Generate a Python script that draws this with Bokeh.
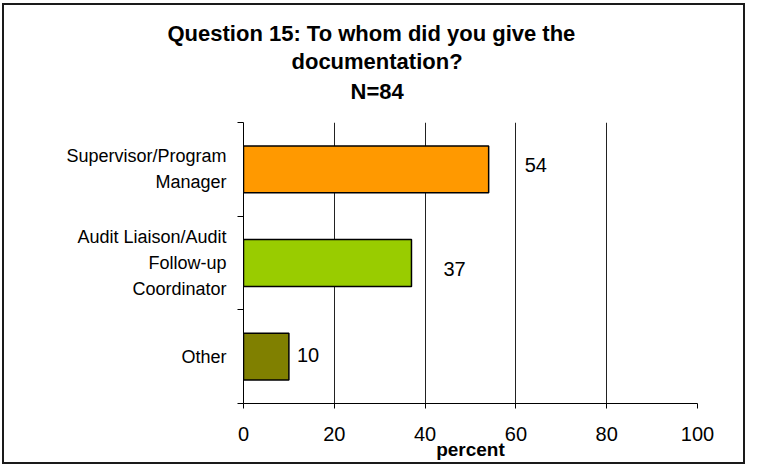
from bokeh.plotting import figure
from bokeh.models import FixedTicker, Range1d, Title, ColumnDataSource
from bokeh.embed import file_html
from bokeh.resources import INLINE
from bokeh.core.properties import value

# ---- data ----
title_lines = ["Question 15:  To whom did you give the", "documentation?", "N=84"]
categories = ["Supervisor/Program\nManager",
              "Audit Liaison/Audit\nFollow-up\nCoordinator",
              "Other"]
percents = [54, 37, 10]
value_labels = ["54", "37", "10"]
bar_colors = ["#FF9900", "#99CC00", "#808000"]
x_ticks = [0, 20, 40, 60, 80, 100]
x_label = "percent"

# ---- layout ----
FONT = "Liberation Sans"
n = len(categories)
ypos = [n - i - 0.5 for i in range(n)]
label_dx = [36, 32, 8]
label_dy = [-4, 6, -2]
# horizontal shift of each title line from the frame's left edge (px)
title_offsets = [-76, 48, 107]
title_standoffs = [0, 2, 4]

p = figure(width=743, height=461, x_range=Range1d(0, 100), y_range=Range1d(0, n),
           output_backend="svg", toolbar_location=None, title=None,
           min_border_left=239, min_border_right=50,
           min_border_top=117, min_border_bottom=63)
p.styles = {"border": "2px solid #1a1a1a", "margin": "3px 0 0 2px"}
p.outline_line_color = None
p.background_fill_color = "white"
p.border_fill_color = "white"

src = ColumnDataSource(dict(y=ypos, right=percents, color=bar_colors,
                            text=value_labels, dx=label_dx, dy=label_dy))
p.hbar(y="y", left=0, right="right", height=0.5, fill_color="color",
       line_color="black", line_width=1.5, source=src)
p.text(x="right", y="y", text="text", x_offset="dx", y_offset="dy", source=src,
       text_font=value(FONT), text_font_size="20px", text_color="black",
       text_align="left", text_baseline="middle")

# x axis
p.xaxis.ticker = FixedTicker(ticks=x_ticks)
p.xaxis.axis_line_color = "black"
p.xaxis.major_tick_line_color = "black"
p.xaxis.major_tick_out = 5
p.xaxis.major_tick_in = 0
p.xaxis.minor_tick_line_color = None
p.xaxis.major_label_text_font = FONT
p.xaxis.major_label_text_font_size = "20px"
p.xaxis.major_label_text_color = "black"
p.xaxis.major_label_standoff = 18
p.xaxis.axis_label = x_label
p.xaxis.axis_label_text_font = FONT
p.xaxis.axis_label_text_font_size = "19px"
p.xaxis.axis_label_text_font_style = "bold"
p.xaxis.axis_label_text_color = "black"
p.xaxis.axis_label_standoff = -5

p.xgrid.ticker = FixedTicker(ticks=x_ticks)
p.xgrid.grid_line_color = "#222222"
p.xgrid.grid_line_width = 1
p.ygrid.visible = False

# y axis
p.yaxis.ticker = FixedTicker(ticks=ypos, minor_ticks=list(range(n + 1)))
p.yaxis.major_label_overrides = {ypos[i]: categories[i] for i in range(n)}
p.yaxis.axis_line_color = "black"
p.yaxis.major_tick_line_color = None
p.yaxis.major_tick_out = 0
p.yaxis.major_tick_in = 0
p.yaxis.minor_tick_line_color = "black"
p.yaxis.minor_tick_out = 6
p.yaxis.minor_tick_in = 0
p.yaxis.major_label_text_font = FONT
p.yaxis.major_label_text_font_size = "18px"
p.yaxis.major_label_text_color = "black"
p.yaxis.major_label_text_line_height = 1.3
p.yaxis.major_label_standoff = 11

# spacer between the plot area and the title block
p.add_layout(Title(text=" ", text_font_size="1px", standoff=14), "above")
# title lines (added closest-to-plot first)
for line, off, so in reversed(list(zip(title_lines, title_offsets, title_standoffs))):
    p.add_layout(Title(text=line, align="left", offset=off, standoff=so,
                       text_font=FONT, text_font_size="22px",
                       text_font_style="bold", text_color="black"), "above")

open("out.html", "w").write(file_html(p, INLINE))
